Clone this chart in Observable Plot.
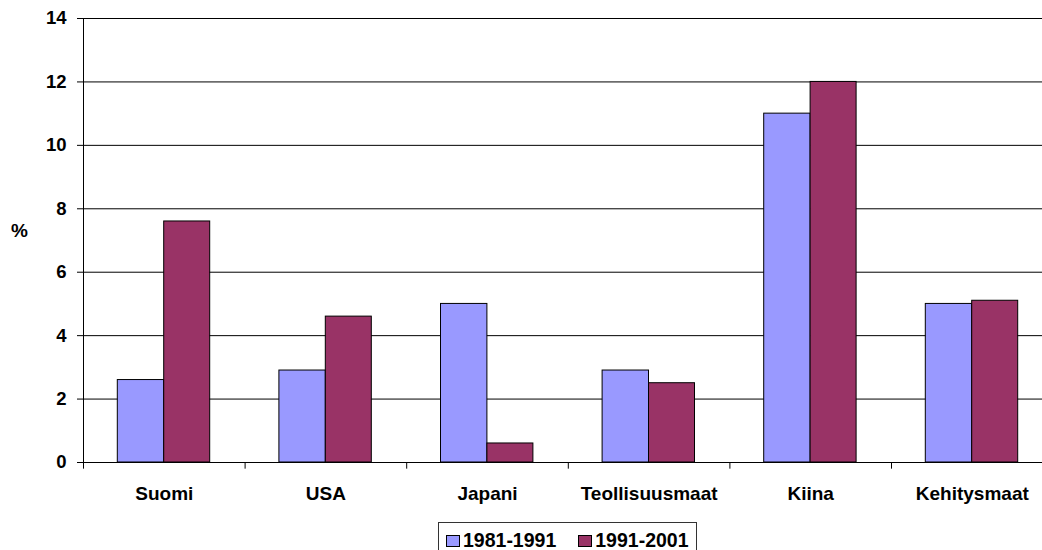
<!DOCTYPE html>
<html>
<head>
<meta charset="utf-8">
<script src="https://cdn.jsdelivr.net/npm/d3@7"></script>
<script src="https://cdn.jsdelivr.net/npm/@observablehq/plot@0.6"></script>
<style>
  html, body { margin: 0; padding: 0; background: #fff; }
  body { width: 1042px; height: 550px; overflow: hidden; position: relative; font-family: Arial, "Liberation Sans", sans-serif; }
  #chart svg { display: block; }
  #legend { position: absolute; left: 438px; top: 522px; width: 259px; height: 40px; border: 1px solid #333; box-sizing: border-box;
            display: flex; align-items: flex-start; padding-top: 6px; padding-left: 7px; font-weight: bold; font-size: 19.5px; color: #000; }
  .item { display: flex; align-items: center; margin-right: 22px; white-space: nowrap; }
  .sw { width: 14px; height: 12px; border: 1px solid #000; box-sizing: border-box; margin-right: 3px; }
</style>
</head>
<body>
<div id="chart"></div>
<div id="legend"></div>
<script>
const categories = ["Suomi", "USA", "Japani", "Teollisuusmaat", "Kiina", "Kehitysmaat"];
const series = ["1981-1991", "1991-2001"];
const values1981 = [2.6, 2.9, 5.0, 2.9, 11.0, 5.0];
const values1991 = [7.6, 4.6, 0.6, 2.5, 12.0, 5.1];
const yTicks = [0, 2, 4, 6, 8, 10, 12, 14];
const colors = ["#9999FF", "#993366"];

const data = categories.map((c, i) => ({cat: c, a: values1981[i], b: values1991[i]}));

const font = "Arial, 'Liberation Sans', sans-serif";
const plot = Plot.plot({
  width: 1042,
  height: 516,
  marginLeft: 83,
  marginRight: 0,
  marginTop: 18,
  marginBottom: 54,
  style: {fontFamily: font, color: "#000", background: "#fff"},
  x: {type: "band", domain: categories, range: [83, 1052.6], padding: 0, round: false, label: null},
  y: {domain: [0, 14], label: null},
  marks: [
    Plot.ruleY(yTicks, {stroke: "#000", strokeWidth: 1}),
    Plot.barY(data, {x: "cat", y: "a", fill: colors[0], stroke: "#000", strokeWidth: 1, insetLeft: 34.3, insetRight: 80.9}),
    Plot.barY(data, {x: "cat", y: "b", fill: colors[1], stroke: "#000", strokeWidth: 1, insetLeft: 80.7, insetRight: 34.9}),
    Plot.ruleX(categories, {x: d => d, y1: 0, y2: -0.21, dx: -80.8, stroke: "#000"}),
    Plot.frame({anchor: "left", stroke: "#000"}),
    Plot.ruleY([0], {stroke: "#000"}),
    Plot.axisY({ticks: yTicks, tickSize: 6, tickPadding: 11, fontSize: 18.5, fontWeight: "bold", label: null, stroke: "#000"}),
    Plot.axisX({tickSize: 0, tickPadding: 24, fontSize: 19, fontWeight: "bold", label: null}),
    Plot.text(["%"], {frameAnchor: "left", dx: -64, dy: -10, text: d => d, fontSize: 19, fontWeight: "bold", textAnchor: "middle"})
  ]
});
document.getElementById("chart").appendChild(plot);

const legend = document.getElementById("legend");
series.forEach((s, i) => {
  const item = document.createElement("div");
  item.className = "item";
  const sw = document.createElement("span");
  sw.className = "sw";
  sw.style.background = colors[i];
  const t = document.createElement("span");
  t.textContent = s;
  item.appendChild(sw);
  item.appendChild(t);
  legend.appendChild(item);
});
</script>
</body>
</html>
